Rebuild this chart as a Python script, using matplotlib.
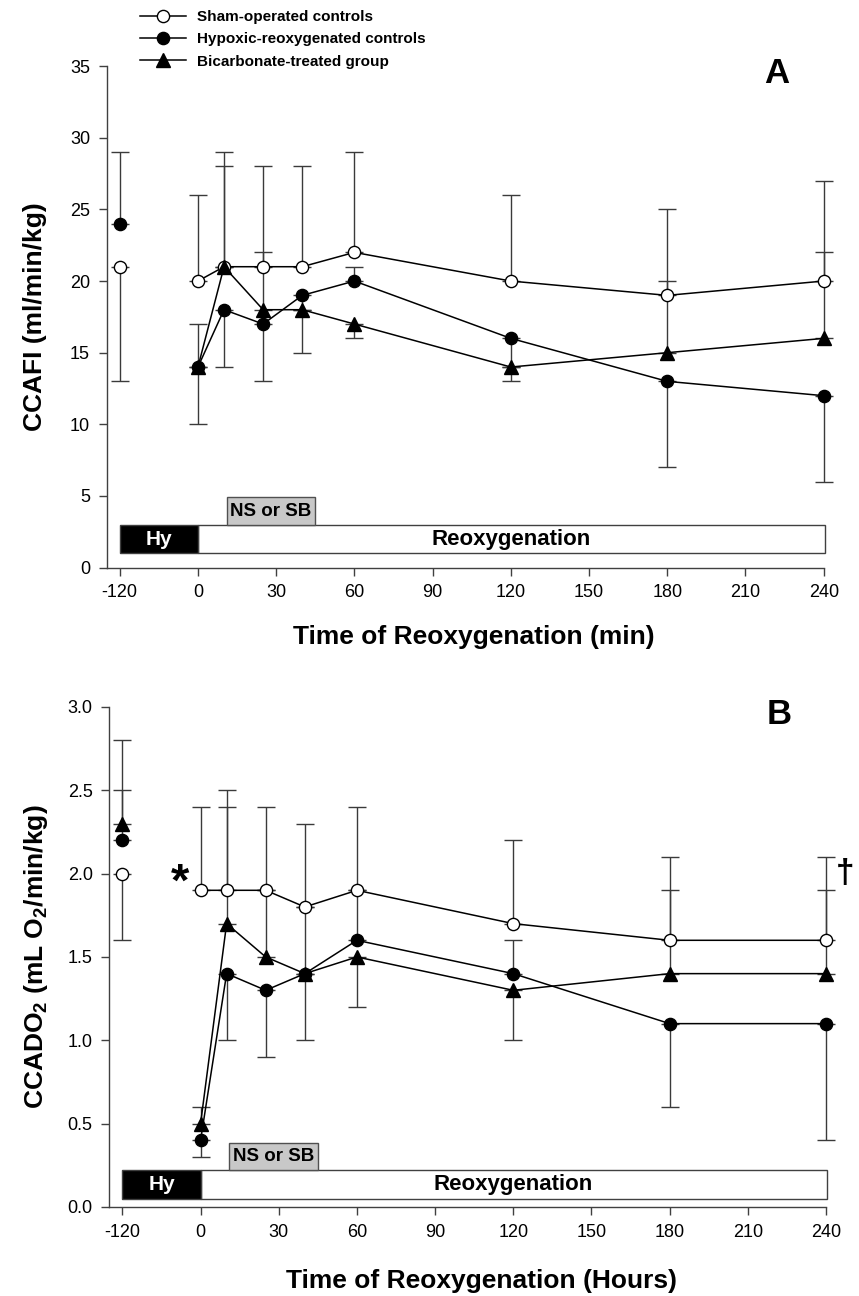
# Cerebral blood flow (CCAFI) and oxygen delivery (CCADO2) during reoxygenation.

from matplotlib import pyplot as plt
from matplotlib.patches import Rectangle
import numpy as np

plt.rcParams['font.family'] = ['Liberation Sans', 'DejaVu Sans']
plt.rcParams['mathtext.fontset'] = 'custom'
plt.rcParams['mathtext.rm'] = 'Liberation Sans'
plt.rcParams['mathtext.bf'] = 'Liberation Sans:bold'

# time points (min); -120 is baseline, drawn apart from the curve
times = [-120, 0, 10, 25, 40, 60, 120, 180, 240]
tick_vals = [-120, 0, 30, 60, 90, 120, 150, 180, 210, 240]

# Panel A: CCAFI (ml/min/kg)
a_sham = [21, 20, 21, 21, 21, 22, 20, 19, 20]
a_sham_up = [0, 6, 8, 7, 7, 7, 6, 6, 7]
a_sham_dn = [8, 0, 0, 0, 0, 0, 0, 0, 0]
a_hyp = [24, 14, 18, 17, 19, 20, 16, 13, 12]
a_hyp_up = [5, 0, 0, 0, 0, 1, 0, 0, 0]
a_hyp_dn = [0, 4, 4, 4, 4, 0, 2, 6, 6]
a_bic = [np.nan, 14, 21, 18, 18, 17, 14, 15, 16]
a_bic_up = [0, 3, 7, 4, 0, 0, 0, 5, 6]
a_bic_dn = [0, 0, 0, 0, 0, 1, 1, 0, 0]

# Panel B: CCADO2 (mL O2/min/kg)
b_sham = [2.0, 1.9, 1.9, 1.9, 1.8, 1.9, 1.7, 1.6, 1.6]
b_sham_up = [0, 0.5, 0.5, 0.5, 0.5, 0.5, 0.5, 0.5, 0.5]
b_sham_dn = [0.4, 0, 0, 0, 0, 0, 0, 0, 0]
b_hyp = [2.2, 0.4, 1.4, 1.3, 1.4, 1.6, 1.4, 1.1, 1.1]
b_hyp_up = [0.3, 0, 0, 0, 0, 0.3, 0.2, 0, 0]
b_hyp_dn = [0, 0.1, 0.4, 0.4, 0.4, 0, 0, 0.5, 0.7]
b_bic = [2.3, 0.5, 1.7, 1.5, 1.4, 1.5, 1.3, 1.4, 1.4]
b_bic_up = [0.5, 0.1, 0.8, 0.4, 0.4, 0, 0, 0.5, 0.5]
b_bic_dn = [0, 0, 0, 0, 0, 0.3, 0.3, 0, 0]

labels = ['Sham-operated controls', 'Hypoxic-reoxygenated controls',
          'Bicarbonate-treated group']


def xpos(t):
    # the baseline value sits on a compressed part of the axis
    t = np.asarray(t, dtype=float)
    return np.where(t < 0, -30, t)


styles = [dict(marker='o', mfc='white', mec='black'),
          dict(marker='o', mfc='black', mec='black'),
          dict(marker='^', mfc='black', mec='black')]


def draw_panel(ax, series, ymax, ystep, fmt, boxes, ylabel, xlabel, letter):
    x = xpos(times)
    handles = []
    for (y, up, dn), st, lab in zip(series, styles, labels):
        y = np.array(y, dtype=float)
        eb = ax.errorbar(x, y, yerr=[dn, up], fmt='none', ecolor='#3a3a3a',
                         elinewidth=1, capsize=6.5, capthick=1, zorder=1)
        for art in list(eb.lines[1]) + list(eb.lines[2]):
            art.set_clip_on(False)
        ms = 9.5 if st['marker'] == '^' else 8.8
        h, = ax.plot(x[1:], y[1:], color='black', lw=1.1, ms=ms, mew=1,
                     zorder=3, label=lab, clip_on=False, **st)
        ax.plot(x[:1], y[:1], ls='none', ms=ms, mew=1, zorder=3,
                clip_on=False, **st)
        handles.append(h)

    ax.set_xlim(-35, 240)
    ax.set_ylim(0, ymax)
    ax.set_xticks(xpos(tick_vals))
    ax.set_xticklabels([str(t) for t in tick_vals])
    ax.set_yticks(np.arange(0, ymax + ystep / 2, ystep))
    ax.yaxis.set_major_formatter(plt.FormatStrFormatter(fmt))
    for s in ['top', 'right']:
        ax.spines[s].set_visible(False)
    for s in ['left', 'bottom']:
        ax.spines[s].set_color('#404040')
        ax.spines[s].set_linewidth(1)
    ax.tick_params(direction='out', length=6, width=1, color='#404040',
                   labelsize=13, pad=6)

    # protocol bars
    y0, y1, y2 = boxes
    ax.add_patch(Rectangle((0, y0), 240.5, y1 - y0, fc='white',
                           ec='#404040', lw=1, zorder=0.5, clip_on=False))
    ax.add_patch(Rectangle((-30, y0), 30, y1 - y0, fc='black',
                           ec='#404040', lw=1, zorder=0.6))
    ax.add_patch(Rectangle((11, y1), 34, y2 - y1, fc='#c8c8c8',
                           ec='#505050', lw=1, zorder=0.6))
    ax.text(-15, (y0 + y1) / 2, 'Hy', color='white', fontsize=15,
            fontweight='bold', ha='center', va='center')
    ax.text(120, (y0 + y1) / 2, 'Reoxygenation', fontsize=16,
            fontweight='bold', ha='center', va='center')
    ax.text(28, (y1 + y2) / 2, 'NS or SB', fontsize=13.5,
            fontweight='bold', ha='center', va='center')

    ax.set_ylabel(ylabel, fontsize=19, fontweight='bold')
    ax.yaxis.set_label_coords(-0.083, 0.5)
    ax.set_xlabel(xlabel, fontsize=19, fontweight='bold')
    ax.text(0.934, 0.985, letter, transform=ax.transAxes, fontsize=25,
            fontweight='bold', ha='center', va='center')
    return handles


fig = plt.figure(figsize=(8.59, 12.96), dpi=100)

ax1 = fig.add_axes([0.1242, 0.562, 0.8347, 0.387])
hs = draw_panel(ax1,
                [(a_sham, a_sham_up, a_sham_dn),
                 (a_hyp, a_hyp_up, a_hyp_dn),
                 (a_bic, a_bic_up, a_bic_dn)],
                35, 5, '%d', (1.0, 2.95, 4.9),
                'CCAFI (ml/min/kg)', 'Time of Reoxygenation (min)', 'A')
ax1.xaxis.set_label_coords(0.512, -0.115)

ax2 = fig.add_axes([0.1273, 0.0687, 0.8343, 0.3858])
draw_panel(ax2,
           [(b_sham, b_sham_up, b_sham_dn),
            (b_hyp, b_hyp_up, b_hyp_dn),
            (b_bic, b_bic_up, b_bic_dn)],
           3.0, 0.5, '%.1f', (0.05, 0.222, 0.386),
           r'CCADO$_\mathbf{2}$ (mL O$_\mathbf{2}$/min/kg)',
           'Time of Reoxygenation (Hours)', 'B')
ax2.xaxis.set_label_coords(0.519, -0.125)

# significance marks
ax2.text(-8, 1.87, '*', fontsize=34, fontweight='bold', ha='center',
         va='baseline')
ax2.text(247.5, 2.0, '\u2020', fontsize=24, fontweight='bold', ha='center',
         va='center', clip_on=False)

fig.legend(handles=hs, labels=labels, loc='upper left',
           bbox_to_anchor=(140 / 859, 1 - 10 / 1296), frameon=False,
           borderpad=0, borderaxespad=0, handlelength=3.0,
           handletextpad=0.7, labelspacing=0.55,
           prop={'size': 11, 'weight': 'bold'})

plt.savefig('out.png', dpi=100)
